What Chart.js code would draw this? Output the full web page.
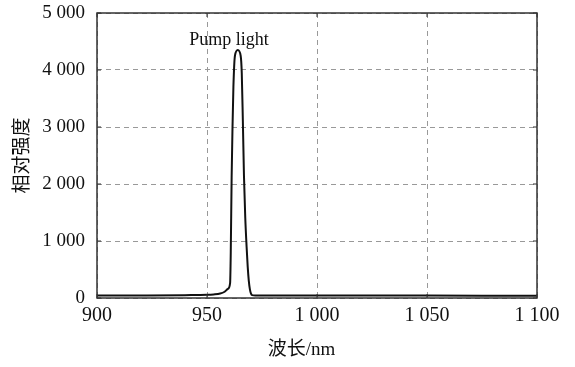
<!DOCTYPE html>
<html>
<head>
<meta charset="utf-8">
<script src="https://cdn.jsdelivr.net/npm/chart.js@4.4.0/dist/chart.umd.min.js"></script>
<style>
    html, body { margin: 0; padding: 0; background: #fff; }
    #wrap { width: 575px; height: 367px; }
</style>
</head>
<body>
<div id="wrap"><canvas id="spectrumChart"></canvas></div>
<script>
const wavelengths = [900, 920, 940, 950, 953, 956, 958, 959.5, 960.5, 960.8, 961.2, 961.6, 962, 962.7, 964, 965.3, 965.8, 966.3, 966.8, 967.4, 968, 968.5, 969, 969.5, 970, 970.5, 972, 980, 1000, 1050, 1100];
const intensity = [42, 45, 50, 55, 62, 78, 110, 160, 260, 800, 2120, 3000, 3700, 4250, 4350, 4250, 3950, 3100, 2150, 1400, 900, 550, 300, 150, 75, 50, 45, 45, 44, 42, 40];
const xTicks = [900, 950, 1000, 1050, 1100];
const yTicks = [0, 1000, 2000, 3000, 4000, 5000];
const peakLabel = { text: 'Pump light', x: 960, y: 4530 };
const xTitle = { text: '波长/nm', x: 993 };

const serif = '"Liberation Serif", "Noto Sans CJK SC", serif';

function withSpace(v) {
    return String(v).replace(/\B(?=(\d{3})+(?!\d))/g, ' ');
}

// box round the plot, inner tick marks, peak label and x title
const framePlugin = {
    id: 'frame',
    afterDraw(chart) {
        const ctx = chart.ctx;
        const a = chart.chartArea;
        const xs = chart.scales.x;
        const ys = chart.scales.y;
        ctx.save();
        ctx.strokeStyle = '#333';
        ctx.lineWidth = 1;
        xTicks.forEach(t => {
            const px = xs.getPixelForValue(t);
            ctx.beginPath();
            ctx.moveTo(px, a.bottom); ctx.lineTo(px, a.bottom - 4);
            ctx.moveTo(px, a.top); ctx.lineTo(px, a.top + 4);
            ctx.stroke();
        });
        yTicks.forEach(t => {
            const py = ys.getPixelForValue(t);
            ctx.beginPath();
            ctx.moveTo(a.left, py); ctx.lineTo(a.left + 4, py);
            ctx.moveTo(a.right, py); ctx.lineTo(a.right - 4, py);
            ctx.stroke();
        });
        ctx.lineWidth = 1.5;
        ctx.strokeRect(a.left, a.top, a.right - a.left, a.bottom - a.top);

        ctx.fillStyle = '#111';
        ctx.textAlign = 'center';
        ctx.textBaseline = 'middle';
        ctx.font = '18px ' + serif;
        ctx.fillText(peakLabel.text, xs.getPixelForValue(peakLabel.x), ys.getPixelForValue(peakLabel.y));
        ctx.font = '19px ' + serif;
        ctx.fillText(xTitle.text, xs.getPixelForValue(xTitle.x), a.bottom + 52);
        ctx.restore();
    }
};

new Chart(document.getElementById('spectrumChart'), {
    type: 'line',
    data: {
        datasets: [{
            data: wavelengths.map((w, i) => ({ x: w, y: intensity[i] })),
            borderColor: '#111',
            borderWidth: 2,
            pointRadius: 0,
            fill: false,
            cubicInterpolationMode: 'monotone'
        }]
    },
    options: {
        responsive: true,
        maintainAspectRatio: false,
        animation: false,
        layout: { padding: { top: 13, right: 38, left: 8, bottom: 0 } },
        plugins: { legend: { display: false }, tooltip: { enabled: false } },
        scales: {
            x: {
                type: 'linear',
                min: 900,
                max: 1100,
                afterFit: s => { s.height = 69; s.paddingLeft = 0; s.paddingRight = 0; },
                afterBuildTicks: s => { s.ticks = xTicks.map(v => ({ value: v })); },
                grid: { color: '#999', drawTicks: false, lineWidth: 1 },
                border: { display: false, dash: [5, 4] },
                ticks: {
                    color: '#111',
                    padding: 6,
                    maxRotation: 0,
                    font: { family: serif, size: 20 },
                    callback: v => withSpace(v)
                }
            },
            y: {
                min: 0,
                max: 5000,
                afterFit: s => { s.width = 89; s.paddingTop = 0; s.paddingBottom = 0; },
                afterBuildTicks: s => { s.ticks = yTicks.map(v => ({ value: v })); },
                grid: { color: '#999', drawTicks: false, lineWidth: 1 },
                border: { display: false, dash: [5, 4] },
                ticks: {
                    color: '#111',
                    padding: 12,
                    font: { family: serif, size: 19 },
                    callback: v => withSpace(v)
                },
                title: {
                    display: true,
                    text: '相对强度',
                    color: '#111',
                    padding: { bottom: 4 },
                    font: { family: serif, size: 19 }
                }
            }
        }
    },
    plugins: [framePlugin]
});
</script>
</body>
</html>
